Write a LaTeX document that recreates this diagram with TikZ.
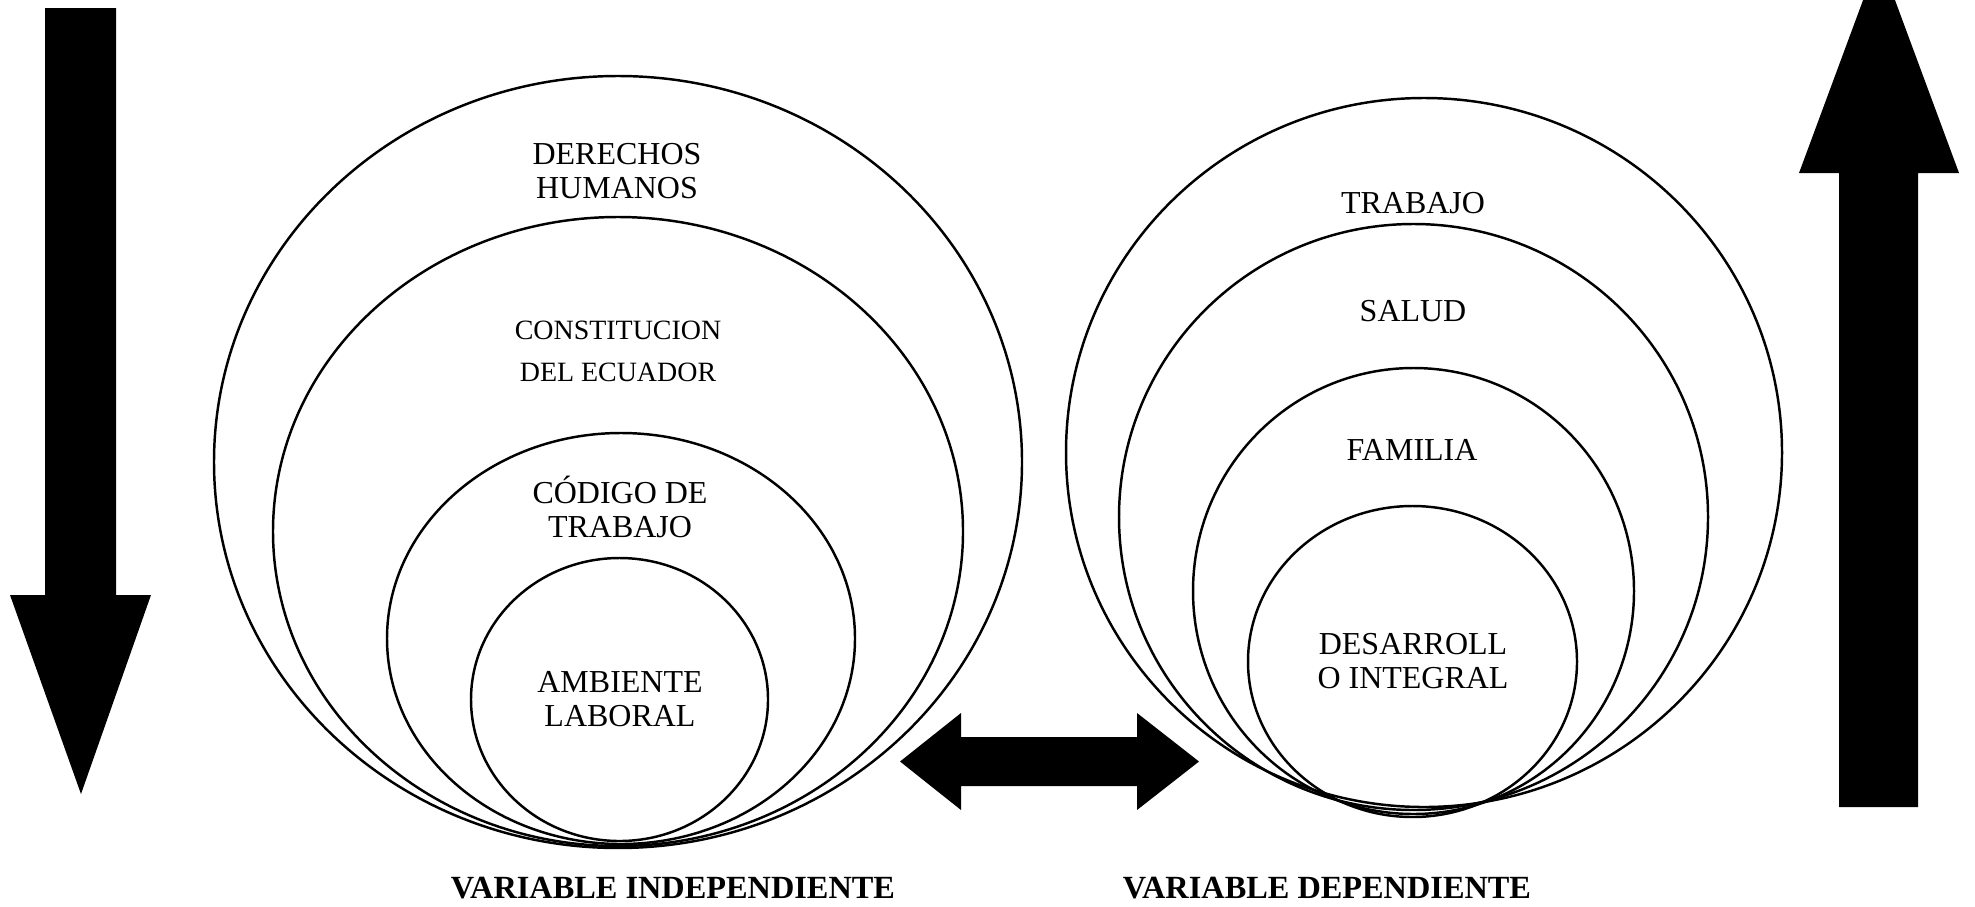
\documentclass[tikz,border=0pt]{standalone}
\usepackage{fontspec}
\setmainfont{Liberation Serif}

\begin{document}
\begin{tikzpicture}[ring/.style={line width=0.7pt}, lbl/.style={align=center, inner sep=0pt, font=\fontsize{9.1}{9.7}\selectfont}, smalllbl/.style={align=center, inner sep=0pt, font=\fontsize{7.95}{12}\selectfont}, varlbl/.style={inner sep=0pt, font=\fontsize{9.2}{9.7}\selectfont\bfseries}, blk/.style={fill=black}]
    \useasboundingbox (0,0) rectangle (19.75,-9.06);
    \clip (0,0) rectangle (19.75,-9.06);

    % independiente
    \draw[ring] (6.18,-4.62) ellipse [x radius=4.04cm, y radius=3.86cm];
    \draw[ring] (6.18,-5.315) ellipse [x radius=3.45cm, y radius=3.145cm];
    \draw[ring] (6.21,-6.385) ellipse [x radius=2.34cm, y radius=2.055cm];
    \draw[ring] (6.195,-6.995) ellipse [x radius=1.485cm, y radius=1.415cm];

    \node[lbl] (dh) at (6.17,-1.71) {DERECHOS\\HUMANOS};
    \node[smalllbl] (ce) at (6.18,-3.51) {CONSTITUCION\\DEL ECUADOR};
    \node[lbl] (ct) at (6.20,-5.07) {CÓDIGO DE\\TRABAJO};
    \node[lbl] (al) at (6.20,-6.99) {AMBIENTE\\LABORAL};

    % dependiente
    \draw[ring] (14.24,-4.525) ellipse [x radius=3.58cm, y radius=3.545cm];
    \draw[ring] (14.135,-5.17) ellipse [x radius=2.945cm, y radius=2.93cm];
    \draw[ring] (14.135,-5.91) ellipse [x radius=2.205cm, y radius=2.23cm];
    \draw[ring] (14.125,-6.615) ellipse [x radius=1.645cm, y radius=1.555cm];

    \node[lbl] (tr) at (14.13,-2.03) {TRABAJO};
    \node[lbl] (sa) at (14.13,-3.11) {SALUD};
    \node[lbl] (fa) at (14.12,-4.50) {FAMILIA};
    \node[lbl] (di) at (14.13,-6.615) {DESARROLL\\O INTEGRAL};

    % flechas
    \fill[blk] (0.45,-0.08) -- (1.16,-0.08) -- (1.16,-5.95) -- (1.51,-5.95) -- (0.81,-7.94)
        -- (0.10,-5.95) -- (0.45,-5.95) -- cycle;
    \fill[blk] (18.39,-8.07) -- (19.18,-8.07) -- (19.18,-1.73) -- (19.59,-1.73) -- (18.79,0.43)
        -- (17.99,-1.73) -- (18.39,-1.73) -- cycle;
    \fill[blk] (9.00,-7.615) -- (9.61,-7.13) -- (9.61,-7.37) -- (11.37,-7.37) -- (11.37,-7.13)
        -- (11.99,-7.615) -- (11.37,-8.10) -- (11.37,-7.86) -- (9.61,-7.86) -- (9.61,-8.10) -- cycle;

    \node[varlbl] (vi) at (6.73,-8.88) {VARIABLE INDEPENDIENTE};
    \node[varlbl] (vd) at (13.27,-8.88) {VARIABLE DEPENDIENTE};
\end{tikzpicture}
\end{document}
